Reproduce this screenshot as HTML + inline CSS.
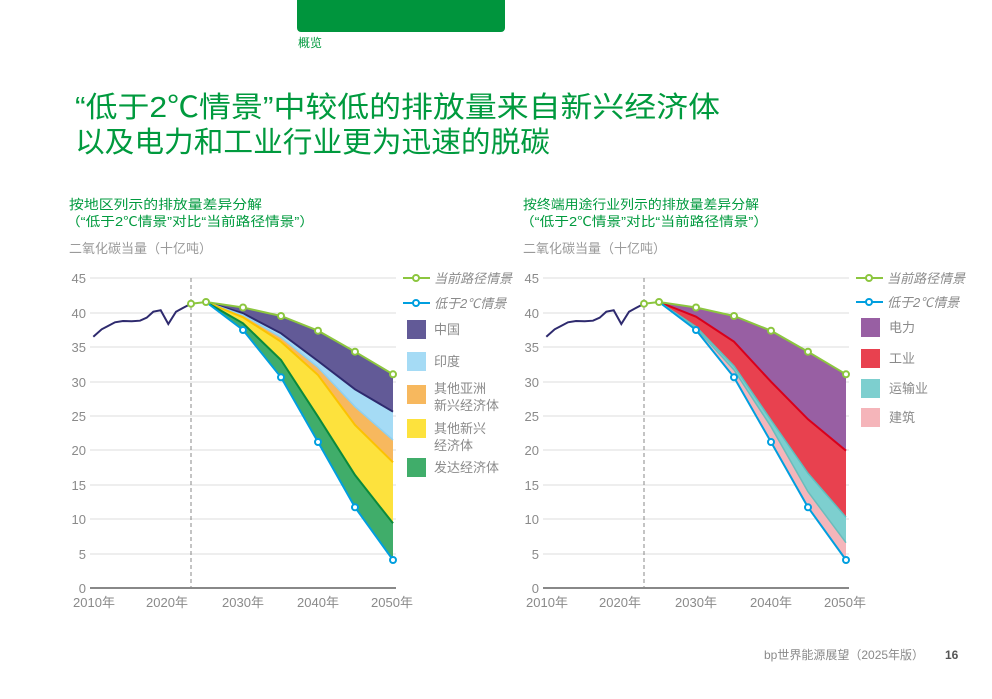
<!DOCTYPE html>
<html><head><meta charset="utf-8"><style>
body{margin:0;background:#fff;}
svg{display:block;font-family:"Liberation Sans","Noto Sans CJK SC",sans-serif;}
.g{fill:#009a3e}
.ax{fill:#8a8a8a;font-size:13px}
.lg{fill:#8a8a8a;font-size:13px}
.grid line{stroke:#dcdcdc;stroke-width:1}
</style></head><body>
<svg width="992" height="699" viewBox="0 0 992 699">
<rect x="297" y="-5" width="208" height="37" rx="4" fill="#00953d"/>
<text x="298" y="47" class="g" font-size="12">概览</text>
<text x="75" y="117" class="g" font-size="29" textLength="645" lengthAdjust="spacingAndGlyphs">“低于2℃情景”中较低的排放量来自新兴经济体</text>
<text x="75" y="152" class="g" font-size="29" textLength="475" lengthAdjust="spacingAndGlyphs">以及电力和工业行业更为迅速的脱碳</text>
<text x="69" y="209" class="g" font-size="13" textLength="193" lengthAdjust="spacingAndGlyphs">按地区列示的排放量差异分解</text>
<text x="66" y="226" class="g" font-size="13" textLength="248" lengthAdjust="spacingAndGlyphs">（“低于2℃情景”对比“当前路径情景”）</text>
<text x="69" y="253" fill="#9a9a9a" font-size="13">二氧化碳当量（十亿吨）</text>
<text x="523" y="209" class="g" font-size="13" textLength="236" lengthAdjust="spacingAndGlyphs">按终端用途行业列示的排放量差异分解</text>
<text x="520" y="226" class="g" font-size="13" textLength="248" lengthAdjust="spacingAndGlyphs">（“低于2℃情景”对比“当前路径情景”）</text>
<text x="523" y="253" fill="#9a9a9a" font-size="13">二氧化碳当量（十亿吨）</text>

<!-- LEFT CHART -->
<g class="grid">
<line x1="90" x2="396" y1="278" y2="278"/><line x1="90" x2="396" y1="313" y2="313"/><line x1="90" x2="396" y1="347" y2="347"/><line x1="90" x2="396" y1="382" y2="382"/><line x1="90" x2="396" y1="416" y2="416"/><line x1="90" x2="396" y1="450" y2="450"/><line x1="90" x2="396" y1="485" y2="485"/><line x1="90" x2="396" y1="519" y2="519"/><line x1="90" x2="396" y1="554" y2="554"/>
</g>
<g class="ax" text-anchor="end">
<text x="86" y="283">45</text><text x="86" y="318">40</text><text x="86" y="352">35</text><text x="86" y="387">30</text><text x="86" y="421">25</text><text x="86" y="455">20</text><text x="86" y="490">15</text><text x="86" y="524">10</text><text x="86" y="559">5</text><text x="86" y="593">0</text>
</g>
<g class="ax" text-anchor="middle" font-size="13">
<text x="94" y="607">2010年</text><text x="167" y="607">2020年</text><text x="243" y="607">2030年</text><text x="318" y="607">2040年</text><text x="392" y="607">2050年</text>
</g>
<polygon fill="#625a97" points="206,302 243,307.5 281,316 318,330.7 355,351.7 393,374.3 393,411.7 355,389.3 318,361 281,333.3 243,313.3"/>
<polygon fill="#a5dbf5" points="206,302 243,313.3 281,333.3 318,361 355,389.3 393,411.7 393,440 355,406.7 318,367.3 281,337.3 243,315"/>
<polygon fill="#f7b85e" points="206,302 243,315 281,337.3 318,367.3 355,406.7 393,440 393,462.3 355,425 318,375 281,341.7 243,317.3"/>
<polygon fill="#fde23d" points="206,302 243,317.3 281,341.7 318,375 355,425 393,462.3 393,523.3 355,475 318,416.7 281,360 243,323.3"/>
<polygon fill="#40ad6a" points="206,302 243,323.3 281,360 318,416.7 355,475 393,523.3 393,560 355,507.3 318,442 281,377.3 243,330"/>
<polyline fill="none" stroke="#2e2a6e" stroke-width="2" points="206,302 243,313.3 281,333.3 318,361 355,389.3 393,411.7"/>
<polyline fill="none" stroke="#8fd0f0" stroke-width="1.5" points="206,302 243,315 281,337.3 318,367.3 355,406.7 393,440"/>
<polyline fill="none" stroke="#fcc200" stroke-width="2" points="206,302 243,317.3 281,341.7 318,375 355,425 393,462.3"/>
<polyline fill="none" stroke="#0b8a3c" stroke-width="2" points="206,302 243,323.3 281,360 318,416.7 355,475 393,523.3"/>
<line x1="191" x2="191" y1="278" y2="588" stroke="#888" stroke-dasharray="4,3"/>
<line x1="90" x2="396" y1="588" y2="588" stroke="#888" stroke-width="2"/>
<polyline fill="none" stroke="#2e2a6e" stroke-width="2" points="93.3,336.7 101.7,329.3 108,326 115,322.3 123,321 131.7,321.3 140,320.7 146.7,317.7 153.3,311.7 160.7,310.3 168.3,324 176,311.7 183.3,307.7 191,303.7"/>
<polyline fill="none" stroke="#8cc63f" stroke-width="2" points="191,303.7 206,302 243,307.5 281,316 318,330.7 355,351.7 393,374.3"/>
<g fill="#fff" stroke="#009fdf" stroke-width="2"><polyline fill="none" points="206,302 243,330 281,377.3 318,442 355,507.3 393,560"/>
<circle cx="243" cy="330" r="3"/><circle cx="281" cy="377.3" r="3"/><circle cx="318" cy="442" r="3"/><circle cx="355" cy="507.3" r="3"/><circle cx="393" cy="560" r="3"/></g>
<g fill="#fff" stroke="#8cc63f" stroke-width="2"><circle cx="191" cy="303.7" r="3"/><circle cx="206" cy="302" r="3"/><circle cx="243" cy="307.5" r="3"/><circle cx="281" cy="316" r="3"/><circle cx="318" cy="330.7" r="3"/><circle cx="355" cy="351.7" r="3"/><circle cx="393" cy="374.3" r="3"/></g>
<line x1="403" x2="430" y1="278" y2="278" stroke="#8cc63f" stroke-width="2"/><circle cx="416" cy="278" r="3" fill="#fff" stroke="#8cc63f" stroke-width="2"/>
<text x="434" y="283" class="lg" font-style="italic">当前路径情景</text>
<line x1="403" x2="430" y1="303" y2="303" stroke="#009fdf" stroke-width="2"/><circle cx="416" cy="303" r="3" fill="#fff" stroke="#009fdf" stroke-width="2"/>
<text x="434" y="308" class="lg" font-style="italic">低于2℃情景</text>
<rect x="407" y="320" width="19" height="19" fill="#625a97"/><text x="434" y="334" class="lg">中国</text>
<rect x="407" y="352" width="19" height="19" fill="#a5dbf5"/><text x="434" y="366" class="lg">印度</text>
<rect x="407" y="385" width="19" height="19" fill="#f7b85e"/><text x="434" y="393" class="lg">其他亚洲</text><text x="434" y="410" class="lg">新兴经济体</text>
<rect x="407" y="419" width="19" height="19" fill="#fde23d"/><text x="434" y="433" class="lg">其他新兴</text><text x="434" y="450" class="lg">经济体</text>
<rect x="407" y="458" width="19" height="19" fill="#40ad6a"/><text x="434" y="472" class="lg">发达经济体</text>

<!-- RIGHT CHART -->
<g transform="translate(453,0)">
<g class="grid">
<line x1="90" x2="396" y1="278" y2="278"/><line x1="90" x2="396" y1="313" y2="313"/><line x1="90" x2="396" y1="347" y2="347"/><line x1="90" x2="396" y1="382" y2="382"/><line x1="90" x2="396" y1="416" y2="416"/><line x1="90" x2="396" y1="450" y2="450"/><line x1="90" x2="396" y1="485" y2="485"/><line x1="90" x2="396" y1="519" y2="519"/><line x1="90" x2="396" y1="554" y2="554"/>
</g>
<g class="ax" text-anchor="end">
<text x="86" y="283">45</text><text x="86" y="318">40</text><text x="86" y="352">35</text><text x="86" y="387">30</text><text x="86" y="421">25</text><text x="86" y="455">20</text><text x="86" y="490">15</text><text x="86" y="524">10</text><text x="86" y="559">5</text><text x="86" y="593">0</text>
</g>
<g class="ax" text-anchor="middle">
<text x="94" y="607">2010年</text><text x="167" y="607">2020年</text><text x="243" y="607">2030年</text><text x="318" y="607">2040年</text><text x="392" y="607">2050年</text>
</g>
<polygon fill="#985fa3" points="206,302 243,307.5 281,316 318,330.7 355,351.7 393,374.3 393,450.7 355,419.3 318,381.7 281,341.7 243,316.7"/>
<polygon fill="#e8414f" points="206,302 243,316.7 281,341.7 318,381.7 355,419.3 393,450.7 393,517.3 355,473.3 318,420 281,366 243,326.7"/>
<polygon fill="#7dcfcf" points="206,302 243,326.7 281,366 318,420 355,473.3 393,517.3 393,542.7 355,491.7 318,426.7 281,370 243,328.3"/>
<polygon fill="#f5b5ba" points="206,302 243,328.3 281,370 318,426.7 355,491.7 393,542.7 393,560 355,507.3 318,442 281,377.3 243,330"/>
<polyline fill="none" stroke="#d9001b" stroke-width="2" points="206,302 243,316.7 281,341.7 318,381.7 355,419.3 393,450.7"/>
<polyline fill="none" stroke="#5fbfbf" stroke-width="1.5" points="206,302 243,326.7 281,366 318,420 355,473.3 393,517.3"/>
<polyline fill="none" stroke="#6bbcbc" stroke-width="1.5" points="206,302 243,328.3 281,370 318,426.7 355,491.7 393,542.7"/>
<line x1="191" x2="191" y1="278" y2="588" stroke="#888" stroke-dasharray="4,3"/>
<line x1="90" x2="396" y1="588" y2="588" stroke="#888" stroke-width="2"/>
<polyline fill="none" stroke="#2e2a6e" stroke-width="2" points="93.3,336.7 101.7,329.3 108,326 115,322.3 123,321 131.7,321.3 140,320.7 146.7,317.7 153.3,311.7 160.7,310.3 168.3,324 176,311.7 183.3,307.7 191,303.7"/>
<polyline fill="none" stroke="#8cc63f" stroke-width="2" points="191,303.7 206,302 243,307.5 281,316 318,330.7 355,351.7 393,374.3"/>
<g fill="#fff" stroke="#009fdf" stroke-width="2"><polyline fill="none" points="206,302 243,330 281,377.3 318,442 355,507.3 393,560"/>
<circle cx="243" cy="330" r="3"/><circle cx="281" cy="377.3" r="3"/><circle cx="318" cy="442" r="3"/><circle cx="355" cy="507.3" r="3"/><circle cx="393" cy="560" r="3"/></g>
<g fill="#fff" stroke="#8cc63f" stroke-width="2"><circle cx="191" cy="303.7" r="3"/><circle cx="206" cy="302" r="3"/><circle cx="243" cy="307.5" r="3"/><circle cx="281" cy="316" r="3"/><circle cx="318" cy="330.7" r="3"/><circle cx="355" cy="351.7" r="3"/><circle cx="393" cy="374.3" r="3"/></g>
<line x1="403" x2="430" y1="278" y2="278" stroke="#8cc63f" stroke-width="2"/><circle cx="416" cy="278" r="3" fill="#fff" stroke="#8cc63f" stroke-width="2"/>
<text x="434" y="283" class="lg" font-style="italic">当前路径情景</text>
<line x1="403" x2="430" y1="302" y2="302" stroke="#009fdf" stroke-width="2"/><circle cx="416" cy="302" r="3" fill="#fff" stroke="#009fdf" stroke-width="2"/>
<text x="434" y="307" class="lg" font-style="italic">低于2℃情景</text>
<rect x="408" y="318" width="19" height="19" fill="#985fa3"/><text x="436" y="332" class="lg">电力</text>
<rect x="408" y="349" width="19" height="19" fill="#e8414f"/><text x="436" y="363" class="lg">工业</text>
<rect x="408" y="379" width="19" height="19" fill="#7dcfcf"/><text x="436" y="393" class="lg">运输业</text>
<rect x="408" y="408" width="19" height="19" fill="#f5b5ba"/><text x="436" y="422" class="lg">建筑</text>
</g>
<text x="764" y="659" fill="#8a8a8a" font-size="12">bp世界能源展望（2025年版）</text>
<text x="945" y="659" fill="#555" font-size="12" font-weight="bold">16</text>
</svg>
</body></html>
